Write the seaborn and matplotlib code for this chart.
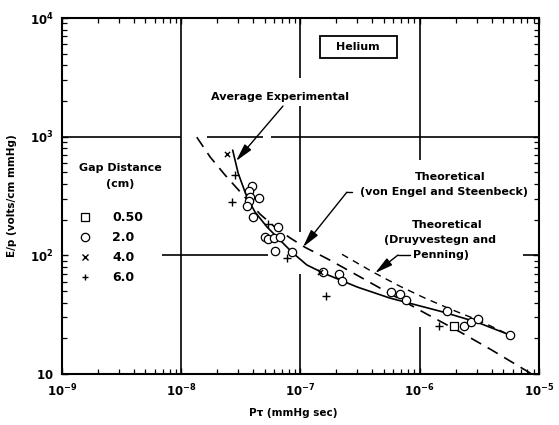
import matplotlib
matplotlib.use("Agg")
import matplotlib.pyplot as plt
import seaborn as sns
import pandas as pd
from matplotlib.lines import Line2D
from matplotlib.patches import Rectangle
from matplotlib.ticker import FixedLocator, FixedFormatter, LogLocator, NullFormatter

sns.set_theme(style="ticks")
plt.rcParams["font.family"] = ["DejaVu Sans"]
plt.rcParams["mathtext.fontset"] = "dejavusans"
plt.rcParams.update({"text.color": "black", "axes.labelcolor": "black",
                     "xtick.color": "black", "ytick.color": "black",
                     "axes.edgecolor": "black"})

# ---- measured breakdown data, by gap distance (cm) ----
gap_labels = ["0.50", "2.0", "4.0", "6.0"]

gap_050_pt = [1.95e-6]
gap_050_ep = [25.5]

gap_20_pt = [3.9e-8, 3.7e-8, 3.75e-8, 4.5e-8, 3.7e-8, 3.55e-8, 4.0e-8, 6.5e-8,
             5.0e-8, 5.35e-8, 6.0e-8, 6.7e-8, 6.1e-8, 8.5e-8, 1.55e-7, 2.1e-7,
             2.25e-7, 5.7e-7, 6.8e-7, 7.7e-7, 1.7e-6, 2.35e-6, 2.7e-6, 3.1e-6,
             5.7e-6]
gap_20_ep = [385, 350, 310, 305, 287, 260, 210, 173,
             143, 137, 140, 143, 109, 107, 72, 70,
             61, 49, 47, 42, 34, 25.5, 27.5, 29,
             21.3]

gap_40_pt = [2.4e-8, 1.45e-7]
gap_40_ep = [710, 72]

gap_60_pt = [2.8e-8, 2.65e-8, 5.3e-8, 7.7e-8, 1.65e-7, 1.45e-6]
gap_60_ep = [480, 280, 185, 95, 45, 25.5]

# ---- curves ----
avg_pt = [2.7e-8, 3.0e-8, 3.55e-8, 4.15e-8, 5.25e-8, 6.7e-8, 8.6e-8, 1.13e-7,
          1.55e-7, 3.0e-7, 5.6e-7, 1.57e-6, 3.0e-6, 5.7e-6]
avg_ep = [770, 493, 310, 232, 173, 135, 105, 83,
          71, 54, 43.7, 33.3, 27.4, 21.3]

engel_pt = [1.35e-8, 1.75e-8, 2.33e-8, 3.3e-8, 4.57e-8, 6.1e-8, 8.2e-8, 1.09e-7,
            1.77e-7, 2.86e-7, 4.64e-7, 1.1e-6, 2.18e-6, 3.9e-6, 8.7e-6]
engel_ep = [990, 673, 475, 322, 223, 173, 140, 117,
            91, 69.6, 53, 32.7, 22.6, 16.2, 10]

druy_pt = [2.23e-7, 4.05e-7, 6.8e-7, 1.1e-6, 1.8e-6, 3.2e-6, 5.2e-6]
druy_ep = [102, 72.3, 55, 43.7, 35.3, 28, 22.2]

x_ticks = [1e-9, 1e-8, 1e-7, 1e-6, 1e-5]
x_tick_labels = [r"$\mathbf{10^{-9}}$", r"$\mathbf{10^{-8}}$", r"$\mathbf{10^{-7}}$",
                 r"$\mathbf{10^{-6}}$", r"$\mathbf{10^{-5}}$"]
y_ticks = [10, 1e2, 1e3, 1e4]
y_tick_labels = [r"$\mathbf{10}$", r"$\mathbf{10^{2}}$", r"$\mathbf{10^{3}}$",
                 r"$\mathbf{10^{4}}$"]

fig = plt.figure(figsize=(5.59, 4.25), dpi=100)
ax = fig.add_axes([0.1109, 0.12, 0.8533, 0.8376])
ax.set_xscale("log")
ax.set_yscale("log")
ax.set_xlim(1e-9, 1e-5)
ax.set_ylim(10, 1e4)

# broken reference grid
gkw = dict(color="black", lw=1.2, zorder=1)
ax.vlines([1e-8], [10], [1e4], **gkw)
ax.vlines([1e-7, 1e-7, 1e-7], [3118, 157, 10], [1e4, 1811, 69.6], **gkw)
ax.vlines([1e-6, 1e-6], [635, 10], [1e4, 24.9], **gkw)
ax.hlines([1e3, 1e3, 1e3], [1e-9, 1.644e-8, 5.66e-8], [1e-8, 4.85e-8, 1e-5], **gkw)
ax.hlines([1e2, 1e2], [6.9e-9, 7.34e-6], [5.34e-8, 1e-5], **gkw)

# curves
curves = pd.DataFrame({"pt": avg_pt, "ep": avg_ep})
sns.lineplot(data=curves, x="pt", y="ep", sort=False, estimator=None,
             color="black", lw=1.2, ax=ax, zorder=3)
sns.lineplot(x=engel_pt, y=engel_ep, sort=False, estimator=None, color="black",
             lw=1.2, linestyle=(0, (7, 4.5)), ax=ax, zorder=3)
sns.lineplot(x=druy_pt, y=druy_ep, sort=False, estimator=None, color="black",
             lw=1.0, linestyle=(0, (5, 4)), ax=ax, zorder=3)

# data points
mk = dict(s=36, linewidth=0.9, edgecolor="black", zorder=4)
sns.scatterplot(x=gap_050_pt, y=gap_050_ep, marker="s", facecolor="white", ax=ax, **mk)
sns.scatterplot(x=gap_20_pt, y=gap_20_ep, marker="o", facecolor="white", ax=ax, **mk)
sns.scatterplot(x=gap_40_pt, y=gap_40_ep, marker="x", color="black", s=14,
                linewidth=1.0, ax=ax, zorder=4)
sns.scatterplot(x=gap_60_pt, y=gap_60_ep, marker="+", color="black", s=26,
                linewidth=1.0, ax=ax, zorder=4)

# ticks
ax.xaxis.set_major_locator(FixedLocator(x_ticks))
ax.xaxis.set_major_formatter(FixedFormatter(x_tick_labels))
ax.yaxis.set_major_locator(FixedLocator(y_ticks))
ax.yaxis.set_major_formatter(FixedFormatter(y_tick_labels))
ax.xaxis.set_minor_locator(LogLocator(base=10, subs=range(2, 10)))
ax.yaxis.set_minor_locator(LogLocator(base=10, subs=range(2, 10)))
ax.xaxis.set_minor_formatter(NullFormatter())
ax.yaxis.set_minor_formatter(NullFormatter())
ax.tick_params(which="both", direction="in", top=True, right=True, color="black",
               labelcolor="black")
ax.tick_params(which="major", length=4, width=1.0, labelsize=8.5, pad=6)
ax.tick_params(which="minor", length=3.5, width=0.9)
for sp in ax.spines.values():
    sp.set_linewidth(1.5)
    sp.set_color("black")

tfont = dict(fontsize=8, fontweight="bold", color="black")
ax.set_xlabel("P\u03c4 (mmHg sec)", fontsize=7.5, fontweight="bold", color="black")
ax.xaxis.set_label_coords(0.485, -0.095)
ax.set_ylabel("E/p (volts/cm mmHg)", fontsize=7.5, fontweight="bold", color="black")
ax.yaxis.set_label_coords(-0.095, 0.5)

# Helium label
ax.add_patch(Rectangle((1.457e-7, 4595), 6.44e-7 - 1.457e-7, 7040 - 4595,
                       fill=False, edgecolor="black", lw=1.3, zorder=5))
ax.text(3.03e-7, 5689, "Helium", ha="center", va="center", **tfont)

# annotations
head = dict(arrowstyle="-|>,head_length=0.9,head_width=0.22", color="black",
            lw=1.0, shrinkA=0, shrinkB=0)
ax.text(6.73e-8, 2156, "Average Experimental", ha="center", va="center", **tfont)
ax.annotate("", xy=(2.88e-8, 623), xytext=(7.13e-8, 1811), arrowprops=head, zorder=6)

ax.text(1.79e-6, 457, "Theoretical", ha="center", va="center", **tfont)
ax.text(1.6e-6, 341, "(von Engel and Steenbeck)", ha="center", va="center", **tfont)
ax.plot([2.45e-7, 2.70e-7], [341, 341], color="black", lw=1.0)
ax.annotate("", xy=(1.05e-7, 117.5), xytext=(2.45e-7, 341), arrowprops=head, zorder=6)

ax.text(1.69e-6, 180, "Theoretical", ha="center", va="center", **tfont)
ax.text(1.48e-6, 134.5, "(Druyvestegn and", ha="center", va="center", **tfont)
ax.text(8.78e-7, 100.6, "Penning)", ha="left", va="center", **tfont)
ax.plot([6.57e-7, 8.28e-7], [100.6, 100.6], color="black", lw=1.0)
ax.annotate("", xy=(4.22e-7, 70.9), xytext=(6.57e-7, 100.6), arrowprops=head, zorder=6)

# legend
ax.text(3.06e-9, 544, "Gap Distance", ha="center", va="center", **tfont)
ax.text(3.06e-9, 399, "(cm)", ha="center", va="center", **tfont)
handles = [
    Line2D([], [], ls="none", marker="s", ms=6, mfc="white", mec="black", mew=0.9),
    Line2D([], [], ls="none", marker="o", ms=6, mfc="white", mec="black", mew=0.9),
    Line2D([], [], ls="none", marker="x", ms=3.8, mec="black", mew=1.0),
    Line2D([], [], ls="none", marker="+", ms=5, mec="black", mew=1.0),
]
leg = ax.legend(handles, gap_labels, loc="upper left", bbox_to_anchor=(0.0115, 0.472),
                borderaxespad=0, frameon=False, handlelength=2.0, handletextpad=1.16,
                labelspacing=0.56, prop=dict(size=9, weight="bold"))
for t in leg.get_texts():
    t.set_color("black")

fig.savefig("out.png", dpi=100)
